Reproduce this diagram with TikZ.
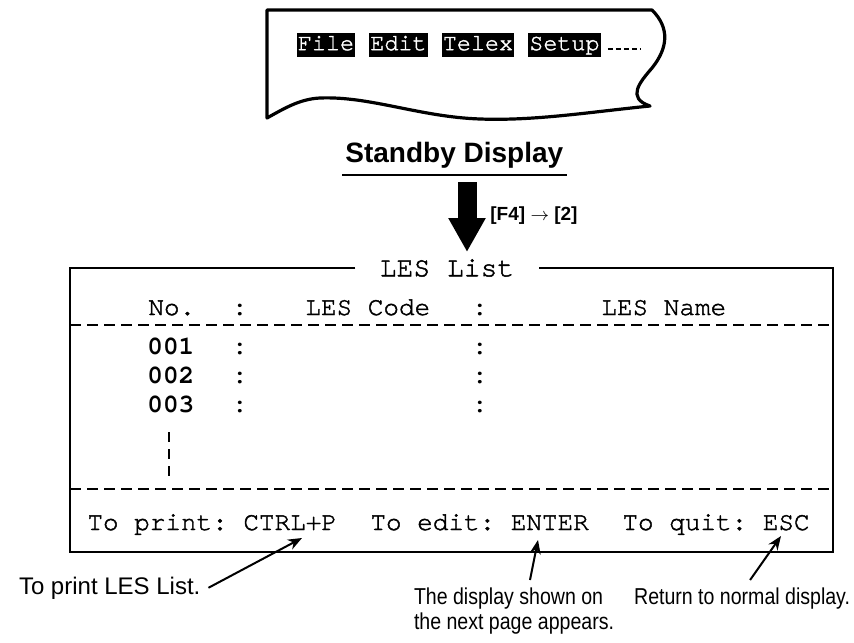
\documentclass[tikz,border=0pt]{standalone}
\usepackage{fontspec}
\setmainfont{Liberation Sans}
\setmonofont[UprightFeatures={FakeBold=1.6}]{TeX Gyre Cursor}
\newfontfamily\narrowsf[FakeStretch=0.85]{Liberation Sans}
\usetikzlibrary{arrows.meta,positioning,calc}

\begin{document}
\begin{tikzpicture}
[ x=0.5pt, y=-0.5pt,
  paper/.style={ draw, line width=1.6pt, line join=round },
  menu/.style={ fill=black, text=white, inner xsep=0.5pt, inner ysep=0pt,
    text height=8.6pt, text depth=3.4pt, font=\ttfamily\fontsize{11.7}{12}\selectfont },
  menudash/.style={ line width=0.8pt, dash pattern=on 2.5pt off 1.5pt },
  std/.style={ inner xsep=1.5pt, inner ysep=0pt, font=\bfseries\fontsize{14}{16}\selectfont },
  bigarrow/.style={ line width=9.5pt, -{Triangle[length=17pt,width=17.5pt]} },
  keys/.style={ inner sep=0pt, font=\bfseries\fontsize{9.5}{11}\selectfont },
  frame/.style={ line width=1.2pt },
  ttl/.style={ inner xsep=12pt, inner ysep=0pt, font=\ttfamily\fontsize{14}{14}\selectfont },
  scr/.style={ inner sep=0pt, font=\ttfamily\fontsize{13}{13}\selectfont },
  num/.style={ inner sep=0pt, font=\ttfamily\bfseries\fontsize{13}{13}\selectfont },
  sep/.style={ line width=0.9pt, dash pattern=on 5.5pt off 3pt },
  vdash/.style={ line width=0.9pt, dash pattern=on 5pt off 3.5pt },
  note/.style={ inner sep=1pt, outer sep=3pt, font=\fontsize{12}{14}\selectfont },
  note2/.style={ inner sep=0pt, outer sep=4pt, align=left, font=\narrowsf\fontsize{11.5}{12.5}\selectfont },
  pointer/.style={ line width=1pt, -{Stealth[length=7pt,width=5.5pt]} }
]
%\draw[help lines] (0,0) grid[step=50] (854,642);
\useasboundingbox (0,0) rectangle (854,642);

% standby display sheet
\draw[paper] (267,10) -- (652,10)
  .. controls (670,28) and (668,48) .. (652,68)
  .. controls (640,82) and (626,98) .. (650,106)
  .. controls (590,112) and (535,121) .. (480,119)
  .. controls (420,117) and (370,96) .. (320,98)
  .. controls (300,99) and (285,108) .. (267,118) -- cycle;

\node[menu] (file) at (326,45) {File};
\node[menu, right=6.75pt of file] (edit) {Edit};
\node[menu, right=6.75pt of edit] (telex) {Telex};
\node[menu, right=6.75pt of telex] (setup) {Setup};
\draw[menudash] ([xshift=3.5pt,yshift=-2pt]setup.east) -- ++(33,0);

\node[std, anchor=base west] (std) at (342,162) {Standby Display};
\draw[line width=1.2pt] ([yshift=-6.5pt]std.base west) -- ([yshift=-6.5pt]std.base east);

\coordinate (atop) at (467,182);
\coordinate (atip) at (467,252);
\draw[bigarrow] (atop) -- (atip);
\node[keys, anchor=west] (keys) at (490,216) {[F4] $\rightarrow$ [2]};

% LES list screen
\node[ttl] (les) at (447,268) {LES List};
\draw[frame] (les.west) -- (70,268) -- (70,552) -- (833,552) -- (833,268) -- (les.east);

\node[scr, anchor=base west] (hno) at (148,315) {No.};
\node[num, anchor=base] (hc1) at (240,315) {:};
\node[scr, anchor=base west] (hcode) at (305,315) {LES Code};
\node[num, anchor=base] (hc2) at (480,315) {:};
\node[scr, anchor=base west] (hname) at (601,315) {LES Name};
\draw[sep] (70,325) -- (833,325);

\foreach \n/\y in {001/354,002/383,003/412}{
  \node[num, anchor=base west] (r\n) at (147,\y) {\n};
  \node[num, anchor=base] (r\n-a) at (240,\y) {:};
  \node[num, anchor=base] (r\n-b) at (480,\y) {:};
}
\draw[vdash] (169,432) -- (169,477);
\draw[sep] (70,489) -- (833,489);

\node[scr, anchor=base west] (prt) at (87,530) {To print: CTRL+P};
\node[scr, anchor=base west] (edt) at (370,530) {To edit: ENTER};
\node[scr, anchor=base west] (qut) at (622,530) {To quit: ESC};

% callouts
\coordinate (tprt) at (302,538);
\coordinate (tedt) at (538,540);
\coordinate (tqut) at (781,536);
\node[note, anchor=base west] (n1) at (11,594) {To print LES List.};
\node[note2, anchor=north west] (n2) at (406,580) {The display shown on\\the next page appears.};
\node[note2, anchor=north east] (n3) at (858,580) {Return to normal display.};
\draw[pointer] (n1.east) -- (tprt);
\draw[pointer] ([xshift=62pt]n2.north west) -- (tedt);
\draw[pointer] ([xshift=4pt]n3.north) -- (tqut);
\end{tikzpicture}
\end{document}
